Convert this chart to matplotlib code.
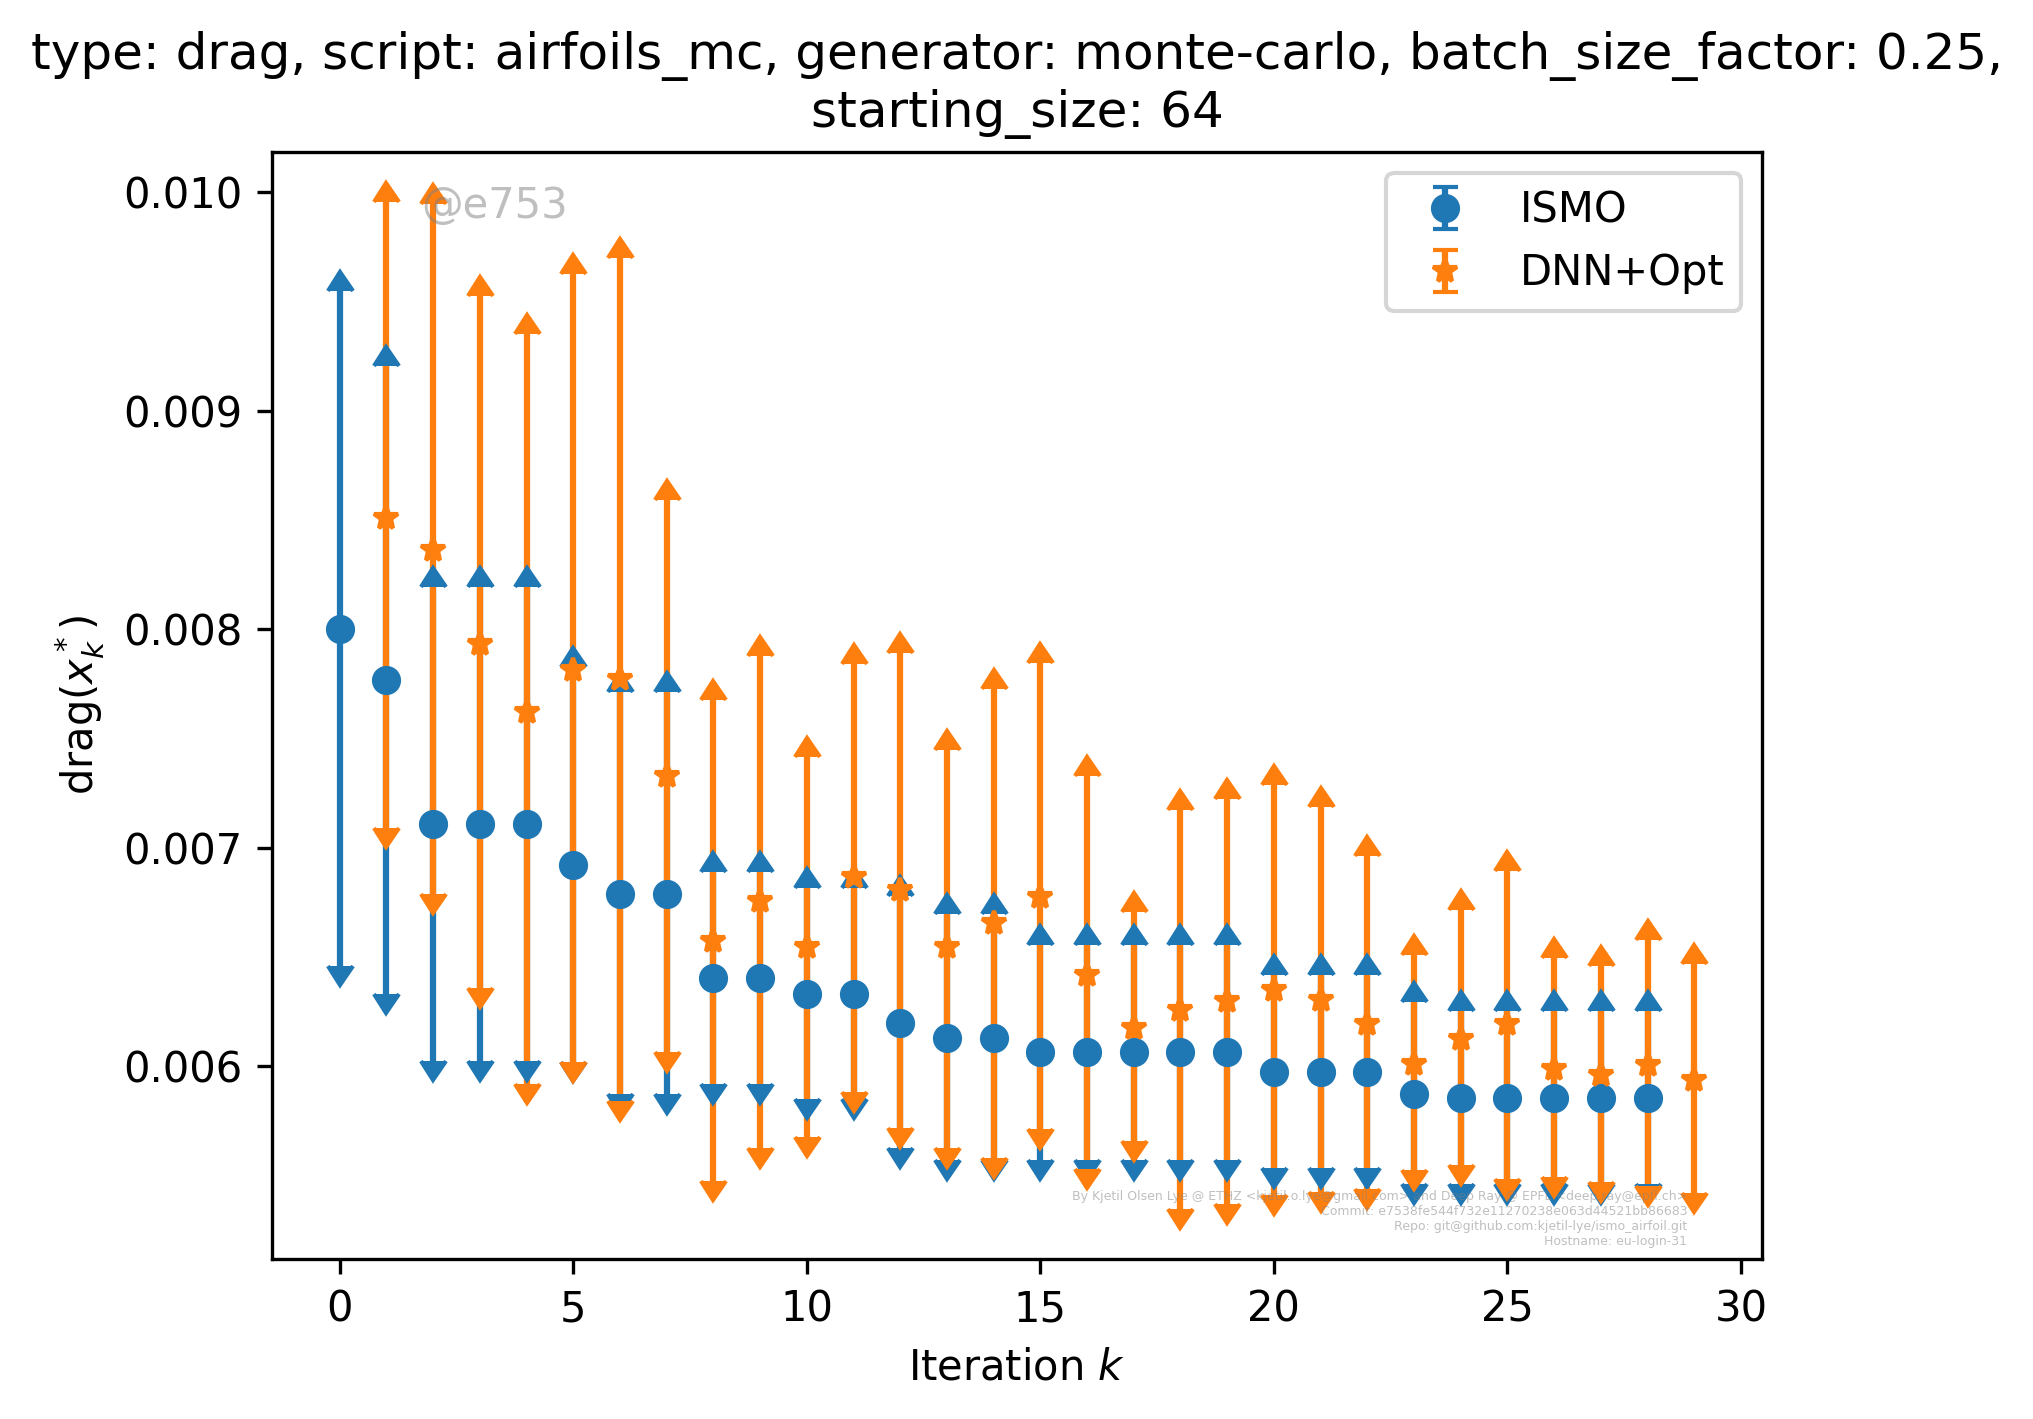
import numpy as np
import matplotlib.pyplot as plt

# ----------------------------
# Data
# ----------------------------
ismo_k = np.arange(0, 29)
ismo_mean = np.array([
    0.00800, 0.007765, 0.00711, 0.00711, 0.00711, 0.006922, 0.006789, 0.006789,
    0.006402, 0.006402, 0.006332, 0.006332, 0.006199, 0.006128, 0.006128,
    0.006063, 0.006063, 0.006063, 0.006063, 0.006063,
    0.005972, 0.005972, 0.005972, 0.00587,
    0.005854, 0.005854, 0.005854, 0.005854, 0.005854,
])
ismo_upper = np.array([
    0.009549, 0.009204, 0.008192, 0.008192, 0.008192, 0.007828, 0.007711, 0.007711,
    0.006889, 0.006889, 0.006817, 0.006817, 0.00678, 0.006696, 0.006696,
    0.006556, 0.006556, 0.006556, 0.006556, 0.006556,
    0.006419, 0.006419, 0.006419, 0.006291,
    0.006252, 0.006252, 0.006252, 0.006252, 0.006252,
])
ismo_lower = np.array([
    0.00646, 0.006332, 0.006025, 0.006025, 0.006025, 0.00602, 0.00587, 0.00587,
    0.005917, 0.005917, 0.00585, 0.00585, 0.005623, 0.005572, 0.005572,
    0.005572, 0.005572, 0.005572, 0.005572, 0.005572,
    0.005535, 0.005535, 0.005535, 0.00546,
    0.00546, 0.00546, 0.00546, 0.00546, 0.00546,
])

dnn_k = np.arange(1, 30)
dnn_mean = np.array([
    0.008511, 0.008362, 0.007934, 0.00762, 0.007815, 0.00777, 0.007329,
    0.006573, 0.006756, 0.006543, 0.006864, 0.006806, 0.006543, 0.006656,
    0.006772, 0.006415, 0.006174, 0.006257, 0.006299, 0.006349, 0.006302,
    0.006191, 0.006008, 0.006125, 0.006191, 0.005987, 0.005958, 0.006003,
    0.005937,
])
dnn_upper = np.array([
    0.009954, 0.009945, 0.009527, 0.009353, 0.009625, 0.009698, 0.00859,
    0.007675, 0.007877, 0.007417, 0.007841, 0.007891, 0.007445, 0.007728,
    0.007843, 0.007329, 0.006706, 0.007171, 0.007221, 0.007287, 0.007188,
    0.006963, 0.006507, 0.006714, 0.006894, 0.006495, 0.006457, 0.006578,
    0.006465,
])
dnn_lower = np.array([
    0.007088, 0.006789, 0.006357, 0.005917, 0.006017, 0.005842, 0.006063,
    0.005472, 0.005623, 0.005673, 0.005879, 0.005718, 0.005626, 0.005581,
    0.005713, 0.005527, 0.005659, 0.005347, 0.005369, 0.00541, 0.005422,
    0.005435, 0.005522, 0.005547, 0.005482, 0.005493, 0.005468, 0.005449,
    0.005419,
])

TITLE = ("type: drag, script: airfoils_mc, generator: monte-carlo, "
         "batch_size_factor: 0.25,\nstarting_size: 64")
CREDITS = ("By Kjetil Olsen Lye @ ETHZ <kjetil.o.lye@gmail.com> and "
           "Deep Ray @ EPFL <deep.ray@epfl.ch>\n"
           "Commit: e7538fe544f732e11270238e063d44521bb86683\n"
           "Repo: git@github.com:kjetil-lye/ismo_airfoil.git\n"
           "Hostname: eu-login-31")


def draw_limits(ax, k, mean, lower, upper, fmt, color, label):
    """
    Upper bar with an up caret, lower bar with a down caret
    (how older matplotlib drew lolims=uplims=True).
    """
    zeros = np.zeros_like(mean)
    up = ax.errorbar(k, mean, yerr=[zeros, upper - mean], lolims=True,
                     fmt=fmt, color=color, label=label)
    down = ax.errorbar(k, mean, yerr=[mean - lower, zeros], uplims=True,
                       fmt=fmt, color=color)
    down[0].set_visible(False)
    for cont in (up, down):
        for col in cont[2]:
            col.set_zorder(1)
        for cap in cont[1]:
            cap.set_zorder(2)
    up[0].set_zorder(2.1)


def main():
    fig = plt.figure(figsize=(2033 / 300, 1419 / 300), dpi=300)
    ax = fig.add_axes([272 / 2033, 1 - 1259 / 1419, 1490 / 2033, 1107 / 1419])

    draw_limits(ax, ismo_k, ismo_mean, ismo_lower, ismo_upper, "o", "C0", "ISMO")
    draw_limits(ax, dnn_k, dnn_mean, dnn_lower, dnn_upper, "*", "C1", "DNN+Opt")

    ax.set_title(TITLE)
    ax.set_xlabel("Iteration $k$")
    ax.set_ylabel("drag($x_k^*$)")
    ax.legend(loc="upper right")

    ax.text(0.1, 0.94, "@e753", transform=ax.transAxes,
            color="gray", alpha=0.5, fontsize=10)
    ax.text(0.95, 0.01, CREDITS, transform=ax.transAxes, ha="right",
            va="bottom", multialignment="right", fontsize=3,
            color="gray", alpha=0.5)

    fig.savefig("out.png", dpi=300)


if __name__ == "__main__":
    main()
